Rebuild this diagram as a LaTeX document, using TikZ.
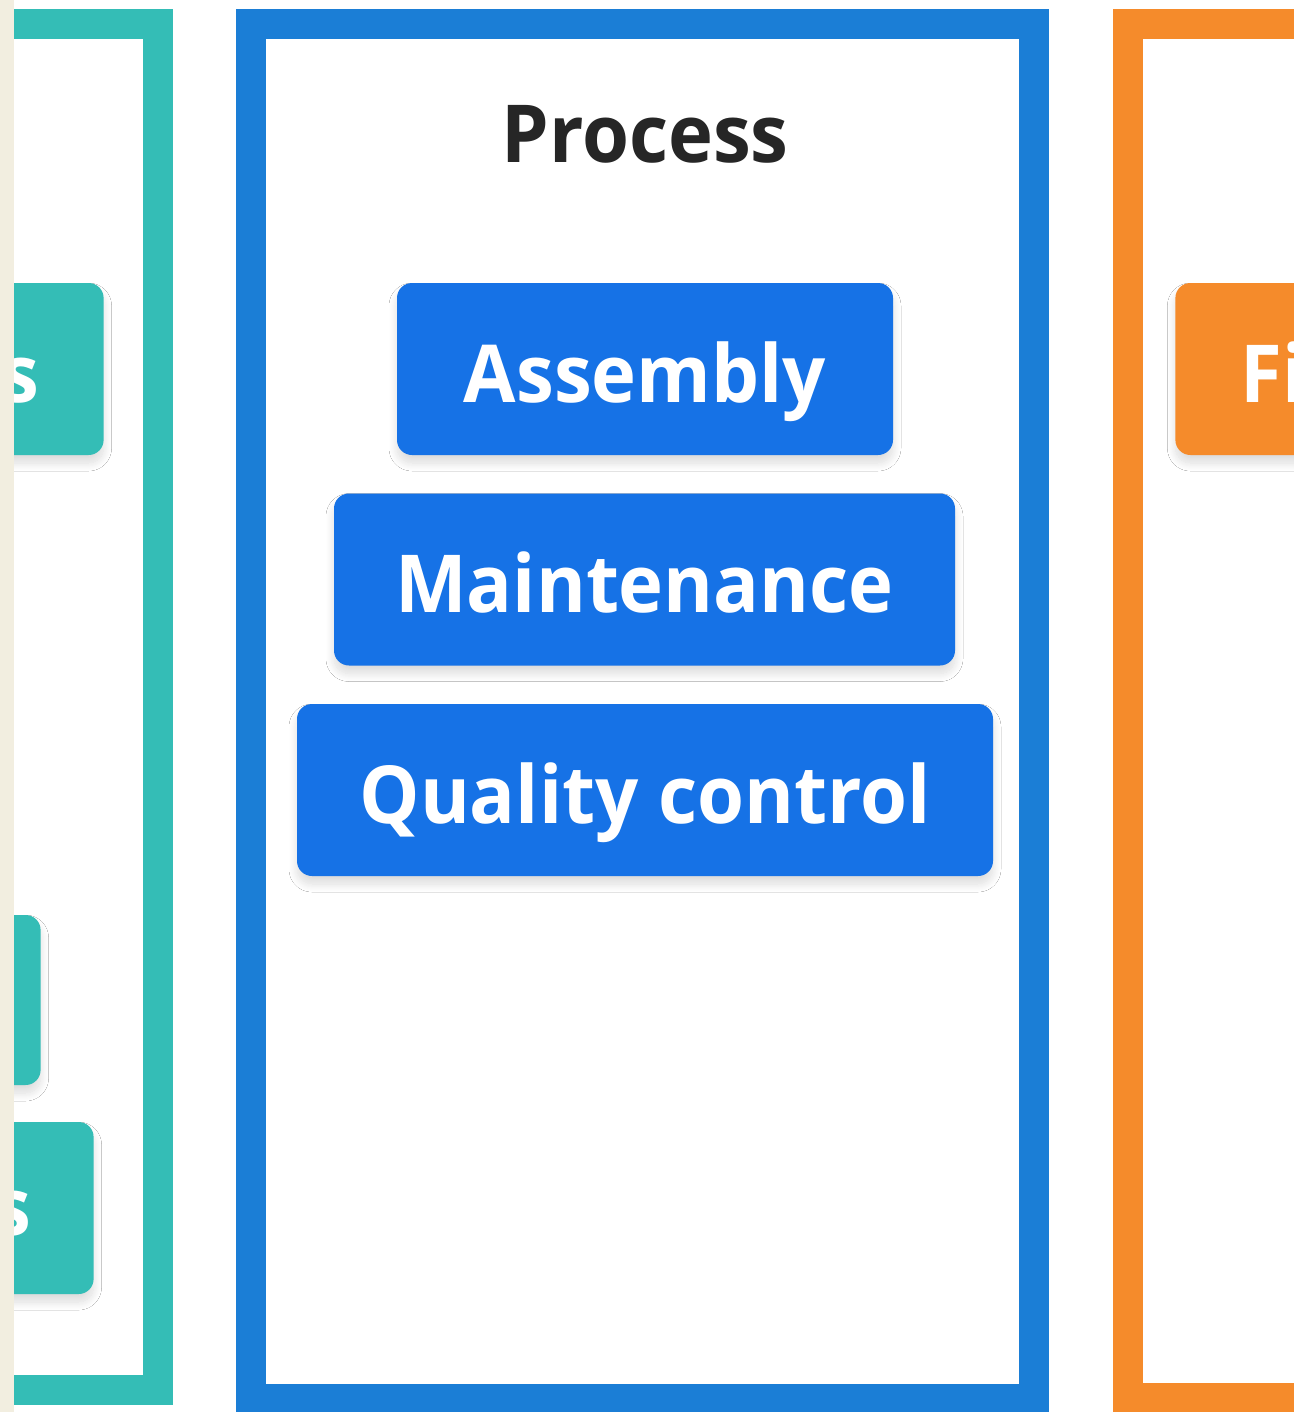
\documentclass[tikz,border=0pt]{standalone}
\usepackage{fontspec}
\setmainfont{Open Sans}[FakeStretch=0.95]
\usetikzlibrary{shadows.blur}
\definecolor{tealc}{RGB}{52,189,182}
\definecolor{bluepanel}{RGB}{27,126,214}
\definecolor{bluetile}{RGB}{22,114,230}
\definecolor{orangec}{RGB}{245,139,43}
\definecolor{beige}{RGB}{242,238,224}
\definecolor{titlec}{RGB}{38,38,38}
\begin{document}
\begin{tikzpicture}[x=0.5pt,y=-0.5pt,
  bigtext/.style={font=\bfseries\fontsize{40}{48}\selectfont},
  panel/.style={line width=15pt, fill=white},
  tile/.style={rounded corners=7.5pt, minimum height=86pt, inner sep=0pt,
    bigtext, text=white, text height=40pt, text depth=7pt,
    blur shadow={shadow xshift=0pt, shadow yshift=-4pt, shadow opacity=14,
      shadow blur radius=4pt, shadow blur steps=16, shadow blur extra rounding=2pt}},
  frag/.style={bigtext, text=white, inner sep=0pt}]
\useasboundingbox (0,0) rectangle (1294,1412);
\clip (0,0) rectangle (1294,1412);
\fill[white] (0,0) rectangle (1294,1412);

% three column panels
\draw[panel, draw=tealc] (-700,24) rectangle (158,1390);
\draw[panel, draw=bluepanel] (251,24) rectangle (1034,1399);
\draw[panel, draw=orangec] (1127.5,24) rectangle (2000,1398);

% middle column
\node[bigtext, text=titlec, anchor=base, inner sep=0pt] (title) at (645,163) {Process};
\node[tile, fill=bluetile, minimum width=248pt] (asm) at (645,369) {Assembly};
\node[tile, fill=bluetile, minimum width=310.5pt] (mnt) at (644.5,579.5) {Maintenance};
\node[tile, fill=bluetile, minimum width=348pt] (qc) at (645,790) {Quality control};

% left column tiles
\node[tile, fill=tealc, minimum width=200pt, anchor=east] (tA) at (104,369) {};
\node[tile, fill=tealc, minimum width=200pt, minimum height=85pt, anchor=east] (tB) at (41,1000) {};
\node[tile, fill=tealc, minimum width=200pt, anchor=east] (tC) at (94,1208) {};
\node[frag, anchor=base east] (tAtext) at (40,402) {s};
\node[frag, anchor=base east] (tCtext) at (32,1235) {s};

% right column tile
\node[tile, fill=orangec, minimum width=200pt, anchor=west] (oA) at (1175,369) {};
\node[frag, anchor=base west] (oAtext) at (1240,402) {Fi};

% left edge strip
\fill[beige] (0,0) rectangle (14,1412);
\end{tikzpicture}
\end{document}
